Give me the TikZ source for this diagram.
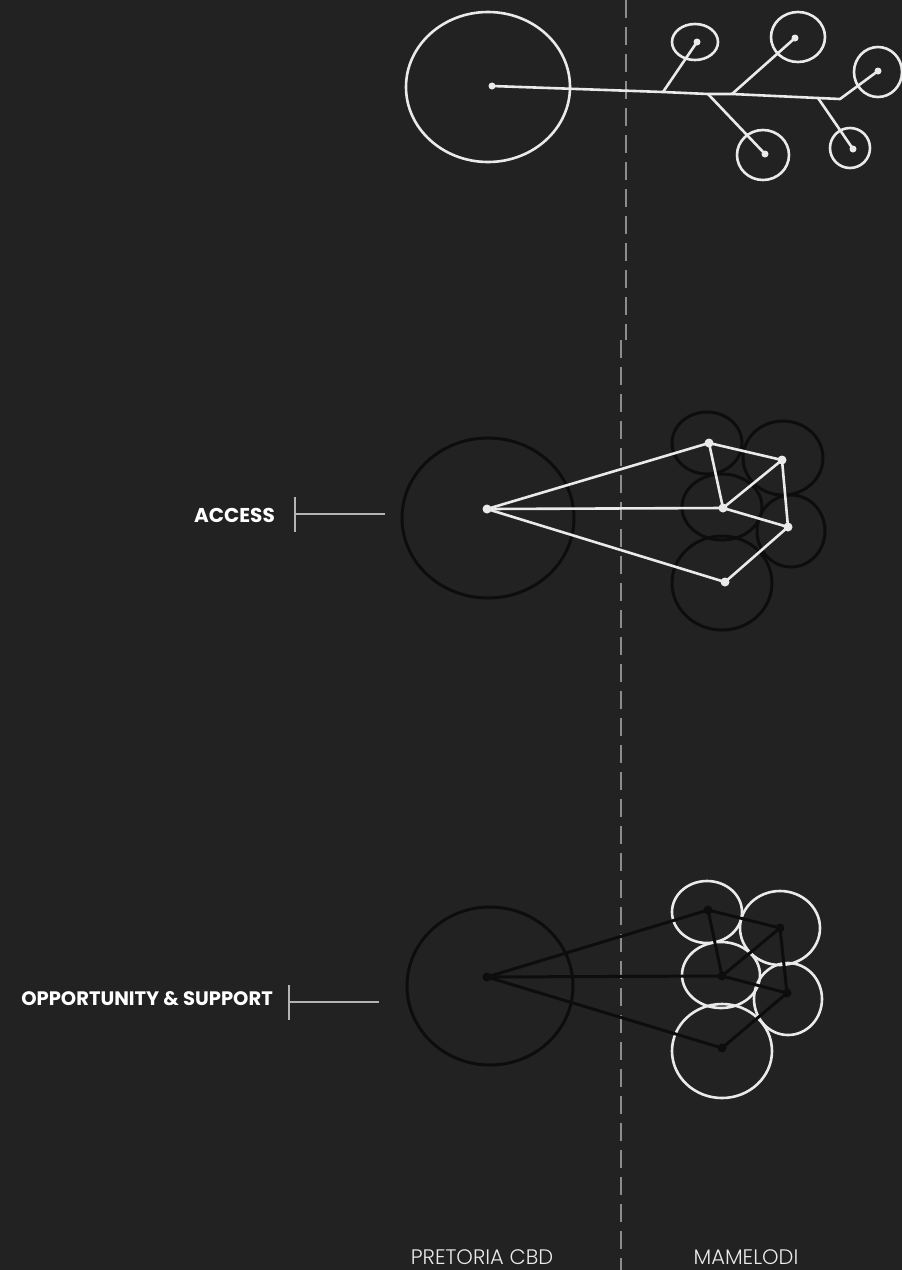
\documentclass[tikz,border=0pt]{standalone}
\usepackage{fontspec}
\setmainfont{Poppins}
\newfontfamily\thinfont{Poppins}[UprightFont={* Light}]
\usepackage{tikz}
\usepackage{xcolor}

\definecolor{bgdark}{HTML}{222222}
\definecolor{chalk}{HTML}{EAEAEA}
\definecolor{ink}{HTML}{0D0D0D}
\definecolor{guide}{HTML}{8C8C8C}
\definecolor{tickgray}{HTML}{B4B4B4}

\tikzset{
	chalkline/.style={draw=chalk, line width=2.6pt, line cap=round, line join=round},
	inkline/.style={draw=ink, line width=3pt, line cap=round, line join=round},
	wdot/.style={circle, fill=chalk, inner sep=0pt, minimum size=9pt},
	bdot/.style={circle, fill=ink, inner sep=0pt, minimum size=9pt},
	divider/.style={draw=guide, line width=1.4pt, dash pattern=on 18pt off 9pt},
	marker/.style={draw=tickgray, line width=1.5pt},
	heading/.style={font=\bfseries\fontsize{20}{20}\selectfont, text=white, inner sep=0pt},
	place/.style={font=\thinfont\fontsize{21}{21}\selectfont, text=chalk, inner sep=0pt}
}

\begin{document}
\begin{tikzpicture}[x=1pt, y=-1pt]
		\fill[bgdark] (0,0) rectangle (902,1270);
		\useasboundingbox (0,0) rectangle (902,1270);
		% divider between the two places
		\coordinate (v1) at (626,0);
		\coordinate (v2) at (626,340);
		\coordinate (v3) at (621,340);
		\coordinate (v4) at (621,1270);
		\draw[divider] (v1) -- (v2);
		\draw[divider] (v3) -- (v4);
		\begin{scope}
			% top: one trunk with scattered settlements
			\coordinate (hub) at (492,86);
			\coordinate (j1) at (663,92);
			\coordinate (j2) at (708,94);
			\coordinate (j3) at (732,94);
			\coordinate (j4) at (818,98);
			\coordinate (elbow) at (840,99);
			\coordinate (l1) at (697,42);
			\coordinate (l2) at (795,38);
			\coordinate (l3) at (878,71);
			\coordinate (l4) at (765,154);
			\coordinate (l5) at (853,149);
			\draw[chalkline] (488,87) ellipse [x radius=82pt, y radius=75pt];
			\draw[chalkline] (695,42) ellipse [x radius=23pt, y radius=18pt];
			\draw[chalkline] (798,37) ellipse [x radius=27pt, y radius=25pt];
			\draw[chalkline] (878,72) ellipse [x radius=24pt, y radius=25pt];
			\draw[chalkline] (763,155) ellipse [x radius=26pt, y radius=25pt];
			\draw[chalkline] (850,148) ellipse [x radius=20pt, y radius=20pt];
			\draw[chalkline] (hub) -- (j1) -- (j2) -- (j3) -- (j4) -- (elbow) -- (l3);
			\draw[chalkline] (j1) -- (l1);
			\draw[chalkline] (j2) -- (l4);
			\draw[chalkline] (j3) -- (l2);
			\draw[chalkline] (j4) -- (l5);
			\foreach \Pt in {hub,l1,l2,l3,l4,l5}
			\node[wdot, minimum size=7pt] at (\Pt) {};
		\end{scope}
		\begin{scope}
			% middle: access
			\coordinate (ma) at (487,509);
			\coordinate (mb) at (709,443);
			\coordinate (mc) at (782,460);
			\coordinate (md) at (723,508);
			\coordinate (me) at (788,527);
			\coordinate (mf) at (725,582);
			\draw[inkline] (488,518) ellipse [x radius=86pt, y radius=80pt];
			\draw[inkline] (707,443) ellipse [x radius=35pt, y radius=31pt];
			\draw[inkline] (783,458) ellipse [x radius=40pt, y radius=37pt];
			\draw[inkline] (722,507) ellipse [x radius=40pt, y radius=33pt];
			\draw[inkline] (791,531) ellipse [x radius=34pt, y radius=36pt];
			\draw[inkline] (722,583) ellipse [x radius=50pt, y radius=47pt];
			\foreach \U/\V in {a/b,a/d,a/f,b/c,b/d,d/c,c/e,d/e,e/f}
			\draw[chalkline] (m\U) -- (m\V);
			\foreach \Pt in {ma,mb,mc,md,me,mf}
			\node[wdot] at (\Pt) {};
		\end{scope}
		\begin{scope}
			% bottom: opportunity and support
			\coordinate (ba) at (487,977);
			\coordinate (bb) at (708,910);
			\coordinate (bc) at (780,928);
			\coordinate (bd) at (722,976);
			\coordinate (be) at (787,993);
			\coordinate (bf) at (722,1048);
			\draw[inkline] (490,986) ellipse [x radius=83pt, y radius=79pt];
			\draw[chalkline] (707,912) ellipse [x radius=35pt, y radius=31pt];
			\draw[chalkline] (780,928) ellipse [x radius=40pt, y radius=37pt];
			\draw[chalkline] (721,975) ellipse [x radius=39pt, y radius=33pt];
			\draw[chalkline] (788,999) ellipse [x radius=34pt, y radius=36pt];
			\draw[chalkline] (722,1051) ellipse [x radius=50pt, y radius=47pt];
			\foreach \U/\V in {a/b,a/d,a/f,b/c,b/d,d/c,c/e,d/e,e/f}
			\draw[inkline] (b\U) -- (b\V);
			\foreach \Pt in {ba,bb,bc,bd,be,bf}
			\node[bdot] at (\Pt) {};
		\end{scope}
		% labels
		\node[heading, anchor=base east] (access) at (275,522) {ACCESS};
		\coordinate (acc1) at (295,497);
		\coordinate (acc2) at (295,532);
		\coordinate (acc3) at (295,514);
		\coordinate (acc4) at (385,514);
		\draw[marker] (acc1) -- (acc2);
		\draw[marker] (acc3) -- (acc4);
		\node[heading, font=\bfseries\fontsize{19.5}{19.5}\selectfont, anchor=base east] (opp) at (273,1005) {OPPORTUNITY \& SUPPORT};
		\coordinate (opp1) at (289,985);
		\coordinate (opp2) at (289,1020);
		\coordinate (opp3) at (289,1002);
		\coordinate (opp4) at (379,1002);
		\draw[marker] (opp1) -- (opp2);
		\draw[marker] (opp3) -- (opp4);
		\node[place, anchor=base] (cbd) at (482,1264) {PRETORIA CBD};
		\node[place, anchor=base] (mam) at (746,1264) {MAMELODI};
	\end{tikzpicture}
\end{document}
